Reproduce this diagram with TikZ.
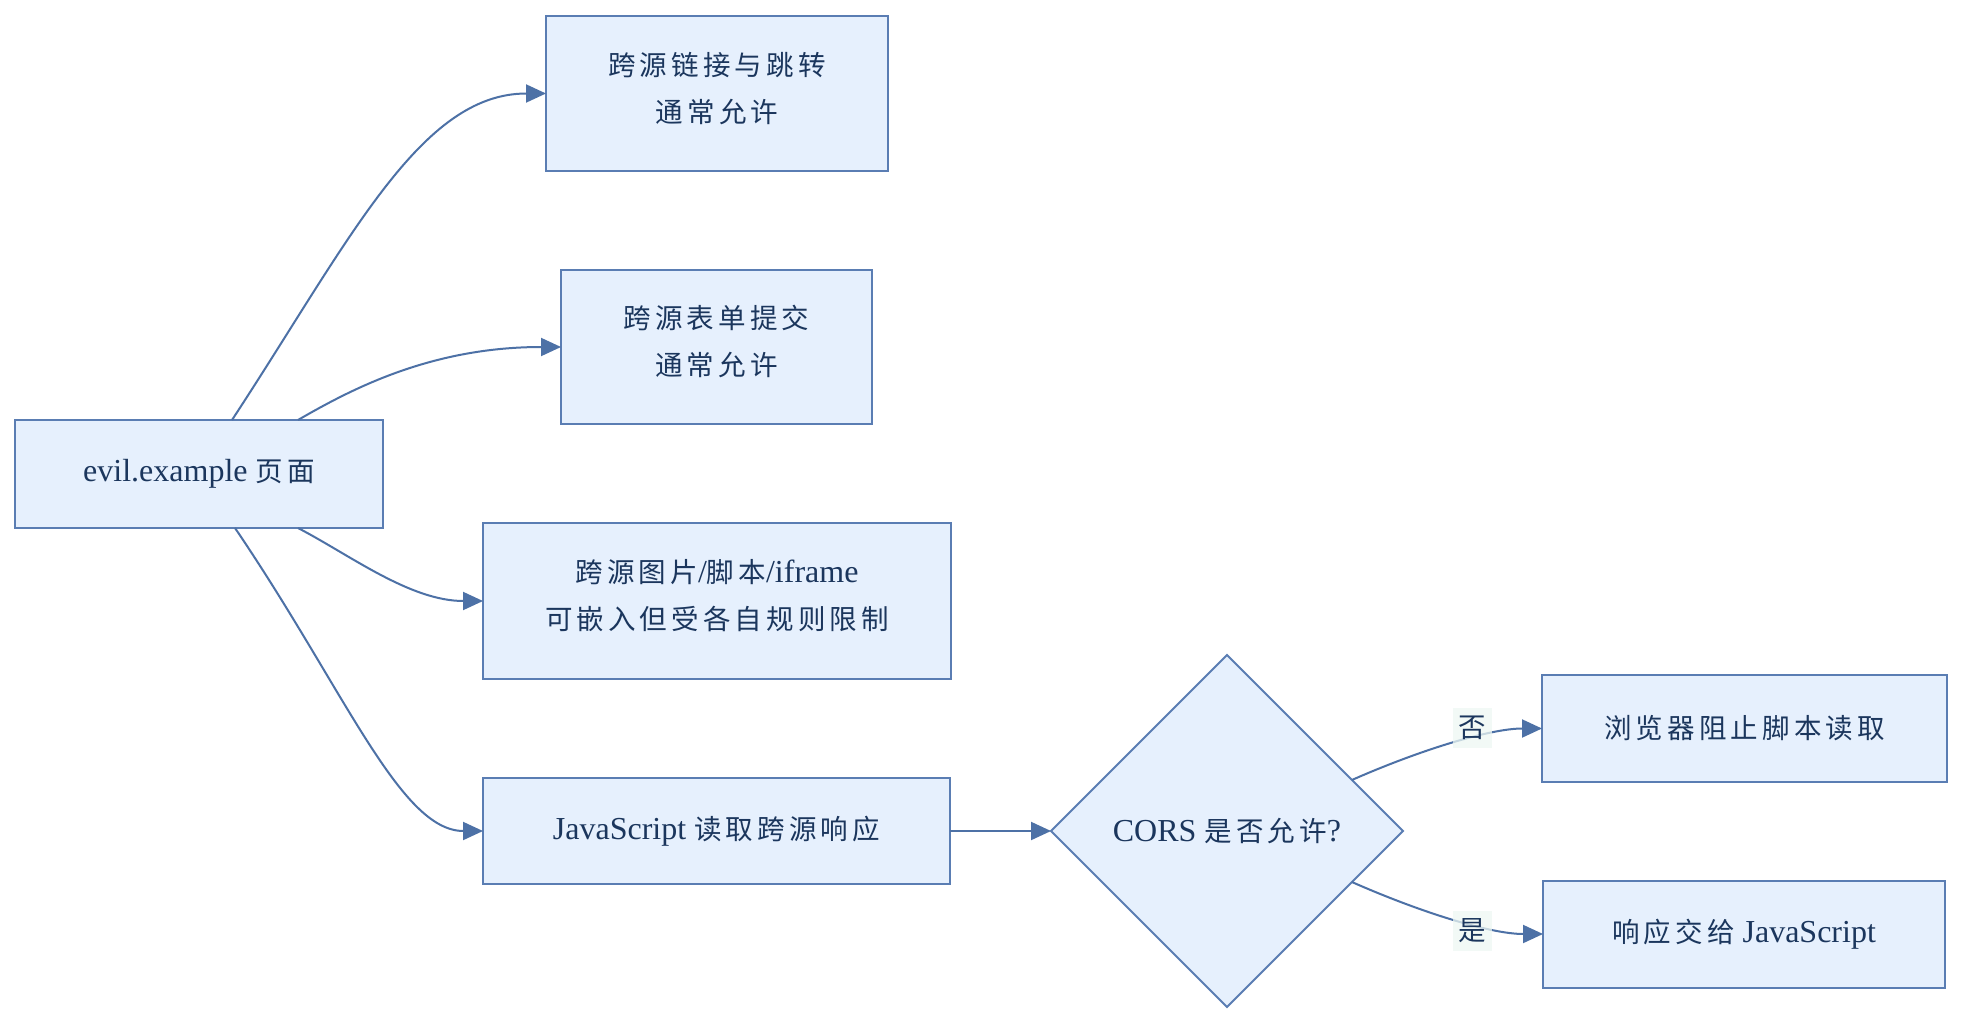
\documentclass[tikz,border=0pt]{standalone}
\usepackage{fontspec}
\setmainfont{Liberation Serif}
\newfontfamily\cjk[Scale=0.86,LetterSpace=15]{Noto Sans CJK SC}
\usetikzlibrary{shapes.geometric,arrows.meta,calc}
\definecolor{boxfill}{HTML}{E6F0FD}
\definecolor{boxline}{HTML}{5A7DB3}
\definecolor{txt}{HTML}{1B365D}
\definecolor{edgecol}{HTML}{4D71A6}
\definecolor{lblbg}{HTML}{EEF8F3}
\newcommand\zh[1]{{\cjk #1}}
\begin{document}
\begin{tikzpicture}[x=1pt,y=-1pt,
  box/.style={draw=boxline, fill=boxfill, line width=2pt, text=txt, align=center,
    inner sep=0pt, outer sep=0pt, font=\fontsize{32}{47}\selectfont},
  twoline/.style={text depth=13pt},
  dia/.style={diamond, aspect=1, draw=boxline, fill=boxfill, line width=2pt, text=txt,
    inner sep=0pt, outer sep=0pt, minimum width=352pt, minimum height=352pt,
    font=\fontsize{32}{47}\selectfont},
  conn/.style={draw=edgecol, line width=2pt, -{Triangle[length=20pt,width=18pt]}},
  lbl/.style={fill=lblbg, fill opacity=0.75, text opacity=1, text=txt, inner sep=0pt,
    minimum width=39pt, minimum height=40pt, font=\fontsize{32}{36}\selectfont}]
\useasboundingbox (0,0) rectangle (1978,1032);
\fill[white] (0,0) rectangle (1978,1032);

\node[box, minimum width=368pt, minimum height=108pt] (evil) at (199,474) {evil.example \zh{页面}};
\node[box, twoline, minimum width=342pt, minimum height=155pt] (link) at (717,93.5) {\zh{跨源链接与跳转}\\\zh{通常允许}};
\node[box, twoline, minimum width=311pt, minimum height=154pt] (form) at (716.5,347) {\zh{跨源表单提交}\\\zh{通常允许}};
\node[box, twoline, minimum width=468pt, minimum height=156pt] (embed) at (717,601) {\zh{跨源图片}/\zh{脚本}/iframe\\\zh{可嵌入但受各自规则限制}};
\node[box, minimum width=467pt, minimum height=106pt] (js) at (716.5,831) {JavaScript \zh{读取跨源响应}};
\node[dia] (cors) at (1227,831) {CORS \zh{是否允许}?};
\node[box, minimum width=405pt, minimum height=107pt] (block) at (1744.5,728.5) {\zh{浏览器阻止脚本读取}};
\node[box, minimum width=402pt, minimum height=107pt] (give) at (1744,934) {\zh{响应交给} JavaScript};

\draw[conn] ([xshift=33pt]evil.north) .. controls (350,240) and (420,93.5) .. (link.west);
\draw[conn] ([xshift=99pt]evil.north) .. controls (350,390) and (430,347) .. (form.west);
\draw[conn] ([xshift=99pt]evil.south) .. controls (350,555) and (410,601) .. (embed.west);
\draw[conn] ([xshift=36pt]evil.south) .. controls (345,690) and (400,831) .. (js.west);
\draw[conn] (js.east) -- (cors.west);
\draw[conn] ($(cors.north)!0.71!(cors.east)$) .. controls (1420,750) and (1490,728.5) .. (block.west);
\draw[conn] ($(cors.east)!0.29!(cors.south)$) .. controls (1420,912) and (1490,934) .. (give.west);

\node[lbl] (no) at (1472,728) {\zh{否}};
\node[lbl] (yes) at (1472,931) {\zh{是}};
\end{tikzpicture}
\end{document}
